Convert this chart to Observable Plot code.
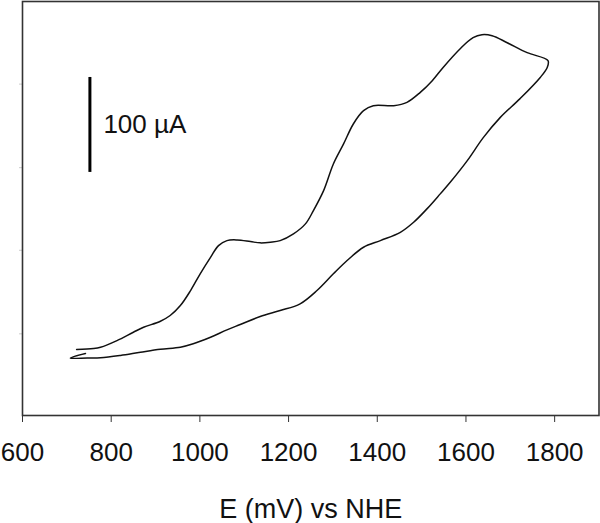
<!DOCTYPE html>
<html>
<head>
<meta charset="utf-8">
<script src="https://cdn.jsdelivr.net/npm/d3@7"></script>
<script src="https://cdn.jsdelivr.net/npm/@observablehq/plot@0.6"></script>
<style>
  html, body { margin: 0; padding: 0; background: #fff; }
  #chart svg { display: block; }
</style>
</head>
<body>
<div id="chart"></div>
<script>
// Potential (mV vs NHE): forward sweep, turnaround, reverse sweep
const potential = [
  722, 760, 776, 813, 850, 873, 911, 933, 956, 979, 1001, 1024, 1042, 1061, 1084, 1114, 1136, 1159, 1181,
  1211, 1238, 1256, 1279, 1301, 1324, 1346, 1369, 1391, 1437, 1467, 1497, 1524, 1548, 1587, 1616,
  1636, 1659, 1693, 1738, 1785,
  1783, 1767, 1722, 1677, 1639, 1603, 1564, 1542, 1512, 1482, 1452, 1407, 1369, 1332, 1301, 1264,
  1226, 1181, 1136, 1091, 1061, 1024, 985, 956, 911, 866, 821, 776, 746, 708, 742
];
// Current (µA, relative baseline)
const current = [
  69.5, 70.5, 71.9, 78.9, 87.7, 92.9, 99.3, 105.3, 115.8, 131.6, 149.5, 166.6, 178.9, 184.2, 184.9, 183.2, 181.8, 182.5, 184.2,
  191.3, 201.8, 215.8, 236.8, 264.9, 286, 307, 321, 326.3, 326.3, 329.8, 340.3, 352.6, 366.3, 386.3, 397.9,
  401.1, 400, 392.6, 382.1, 373.7,
  366.3, 355.8, 333.7, 313.7, 292.6, 268.4, 245.3, 233.4, 217.6, 203.5, 192.9, 184.2, 177.2, 163.2, 149.2, 131.6,
  117.6, 110.5, 104.2, 95.8, 90.2, 82.4, 75.5, 71.9, 69.8, 66.6, 63.2, 60.7, 60.5, 60.5, 65.3
];
const xTicks = [600, 800, 1000, 1200, 1400, 1600, 1800];
const yTicks = [86, 174, 261, 349];
const scaleBarE = [752];
const scaleBarFrom = [256];
const scaleBarTo = [356];
const scaleBarLabel = ["100 µA"];
const xLabel = "E (mV) vs NHE";

const cv = potential.map((e, i) => ({E: e, I: current[i]}));
const bar = scaleBarE.map((e, i) => ({E: e, y1: scaleBarFrom[i], y2: scaleBarTo[i], label: scaleBarLabel[i]}));

const font = "Liberation Sans, Arial, Helvetica, sans-serif";

const chart = Plot.plot({
  width: 600,
  height: 523,
  marginLeft: 22,
  marginRight: 1.5,
  marginTop: 1,
  marginBottom: 108,
  style: {fontFamily: font, background: "#fff", color: "#111"},
  x: {domain: [600, 1900]},
  y: {domain: [0, 436]},
  marks: [
    Plot.axisX({ticks: xTicks, tickSize: 7, tickPadding: 20, fontSize: 26, label: null, stroke: "#333", fill: "#111", tickFormat: d => String(d)}),
    Plot.axisY({ticks: yTicks, tickSize: 3, tickFormat: () => "", label: null, stroke: "#ccc"}),
    Plot.frame({stroke: "#333", strokeWidth: 1.6}),
    Plot.line(cv, {x: "E", y: "I", curve: "catmull-rom", stroke: "#111", strokeWidth: 1.5}),
    Plot.ruleX(bar, {x: "E", y1: "y1", y2: "y2", stroke: "#000", strokeWidth: 3}),
    Plot.text(bar, {x: "E", y: d => (d.y1 + d.y2) / 2, text: "label", textAnchor: "start", dx: 13.5, fontSize: 26, fill: "#111", lineAnchor: "middle"}),
    Plot.text([xLabel], {frameAnchor: "bottom", text: d => d, dy: 102, lineAnchor: "bottom", fontSize: 27, fill: "#111"})
  ]
});
document.getElementById("chart").appendChild(chart);
</script>
</body>
</html>
